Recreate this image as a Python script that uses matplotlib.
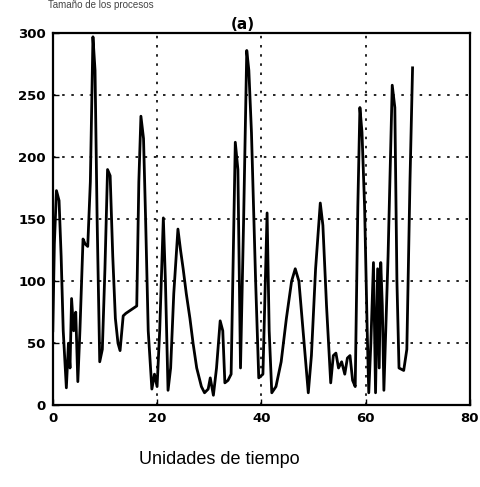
import matplotlib
matplotlib.use("Agg")
import matplotlib.pyplot as plt
import numpy as np

# tiempo y tamaño (a)
t = [0, 0.3, 0.7, 1.2, 1.6, 2.0, 2.6, 3.0, 3.3, 3.6, 4.0, 4.4, 4.8, 5.2, 5.8,
     6.2, 6.7, 7.2, 7.7, 8.1, 8.5, 9.0, 9.5, 10.0, 10.5, 11.0, 11.5, 12.0,
     12.5, 12.9, 13.5, 14.0, 16.1, 16.5, 16.9, 17.4, 17.8, 18.3, 19.0, 19.5,
     20.0, 20.5, 21.2, 21.6, 22.1, 22.6, 23.2, 24.0, 24.5, 25.0, 25.6, 26.3,
     26.9, 27.6, 28.5, 29.1, 29.8, 30.2, 30.8, 31.4, 32.1, 32.6, 33.0, 33.6,
     34.2, 35.0, 35.5, 36.0, 36.6, 37.2, 37.6, 38.1, 38.9, 39.5, 40.3, 41.1,
     41.5, 42.0, 42.8, 43.8, 44.8, 45.8, 46.5, 47.2, 48.0, 49.0, 49.6, 50.4,
     51.3, 51.8, 52.5, 53.3, 53.8, 54.3, 54.8, 55.4, 56.0, 56.5, 57.0, 57.5,
     58.0, 58.5, 58.9, 59.3, 59.8, 60.3, 60.6, 61.0, 61.5, 61.9, 62.3, 62.6,
     62.9, 63.2, 63.5, 64.3, 65.1, 65.6, 66.0, 66.4, 67.3, 67.9, 68.5, 69.0]
tam = [60, 130, 173, 165, 120, 60, 14, 50, 30, 86, 60, 75, 19, 60, 134,
       130, 128, 180, 297, 270, 150, 35, 45, 110, 190, 185, 120, 70,
       50, 44, 72, 74, 80, 180, 233, 215, 150, 60, 13, 25,
       15, 60, 151, 100, 12, 30, 90, 142, 125, 110, 90, 70,
       50, 30, 15, 10, 13, 22, 8, 30, 68, 60, 18, 20,
       25, 212, 190, 30, 150, 286, 270, 220, 100, 22, 25, 155,
       60, 10, 15, 35, 70, 100, 110, 100, 60, 10, 40, 110,
       163, 145, 80, 18, 40, 42, 30, 35, 25, 38, 40, 20,
       15, 160, 240, 220, 160, 60, 10, 50, 115, 10, 110, 30,
       115, 80, 12, 120, 258, 240, 100, 30, 28, 45, 180, 272]

xticks = [0, 20, 40, 60, 80]
yticks = [0, 50, 100, 150, 200, 250, 300]

fig = plt.figure(figsize=(4.8, 4.87), dpi=100)
ax = fig.add_axes([0.110, 0.168, 0.869, 0.764])

ax.plot(t, tam, color='black', linewidth=2.0)

ax.set_xlim(0, 80)
ax.set_ylim(0, 300)
ax.set_xticks(xticks)
ax.set_yticks(yticks)
ax.tick_params(direction='in', length=4, width=1, labelsize=9.5, pad=5)
for lab in ax.get_xticklabels() + ax.get_yticklabels():
    lab.set_fontweight('bold')
ax.grid(True, color='black', linestyle=(0, (1.5, 4)), linewidth=1.2)
for s in ax.spines.values():
    s.set_linewidth(1.6)

ax.set_title('(a)', fontsize=11, fontweight='bold', pad=3, x=0.456)

# texto de la figura original (arriba casi fuera del marco)
fig.text(0.21, 0.999, 'Tamaño de los procesos', fontsize=7,
         ha='center', va='top', family='Liberation Sans', color='#444444')
fig.text(0.457, 0.0555, 'Unidades de tiempo', fontsize=13,
         ha='center', va='center', family='Liberation Sans')

fig.savefig('out.png', dpi=100, facecolor='white')
